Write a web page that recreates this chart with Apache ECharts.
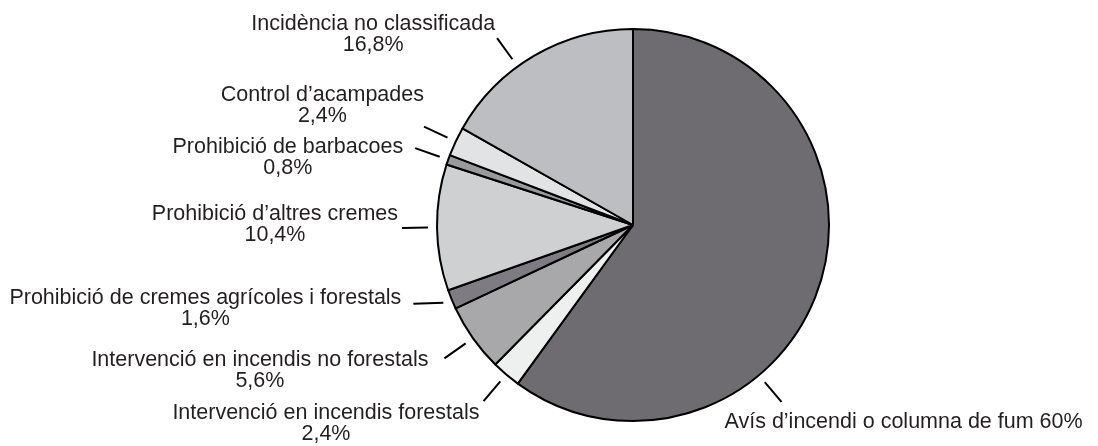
<!DOCTYPE html>
<html>
<head>
<meta charset="utf-8">
<title>Avisos</title>
<script src="https://cdn.jsdelivr.net/npm/echarts@6/dist/echarts.min.js"></script>
<style>
  html, body { margin: 0; padding: 0; background: #fff; }
  #chart { width: 1098px; height: 446px; }
</style>
</head>
<body>
<div id="chart"></div>
<script>
// categories and shares (%), clockwise from 12 o'clock
const names = [
  'Avís d’incendi o columna de fum',
  'Intervenció en incendis forestals',
  'Intervenció en incendis no forestals',
  'Prohibició de cremes agrícoles i forestals',
  'Prohibició d’altres cremes',
  'Prohibició de barbacoes',
  'Control d’acampades',
  'Incidència no classificada'
]
const values = [60, 2.4, 5.6, 1.6, 10.4, 0.8, 2.4, 16.8]

// styling / layout
const sliceColors = ['#6e6c71', '#eef0ef', '#a8a8aa', '#7e7c82', '#cfd0d2', '#9a999e', '#e2e3e5', '#bdbec1']
const cx = 633, cy = 225, R = 196
const tickR0 = 205, tickR1 = 231
const tickShift = [32, 0, 0, 0, 0, 0, 0, -5.8]   // degrees
const flatTick = [false, false, false, true, false, false, false, false]
const labelNudge = [[-57, 20], [-4, 22], [-16, 12], [-12, 5], [-4, -3], [-12, 9], [0, -21], [-2, -4]]

const total = values.reduce((a, b) => a + b, 0)

function tick(i) {
  let before = 0
  for (let k = 0; k < i; k++) before += values[k]
  const deg = (before + values[i] / 2) / total * 360 + tickShift[i]
  const a = deg * Math.PI / 180
  const dx = Math.sin(a), dy = -Math.cos(a)
  const p0 = [cx + dx * tickR0, cy + dy * tickR0]
  if (flatTick[i]) return [p0, [p0[0] + (dx < 0 ? -30 : 30), p0[1] + 1]]
  return [p0, [cx + dx * tickR1, cy + dy * tickR1]]
}

function pct(v) {
  return String(v).replace('.', ',') + '%'
}

const chart = echarts.init(document.getElementById('chart'), null, { renderer: 'canvas' })

const option = {
  animation: false,
  backgroundColor: '#fff',
  series: [{
    type: 'pie',
    center: [cx, cy],
    radius: R,
    startAngle: 90,
    clockwise: true,
    avoidLabelOverlap: false,
    silent: true,
    data: names.map((n, i) => ({
      name: n,
      value: values[i],
      itemStyle: { color: sliceColors[i] }
    })),
    itemStyle: { borderColor: '#000', borderWidth: 2 },
    label: {
      show: true,
      position: 'outside',
      color: '#231f20',
      fontFamily: 'Liberation Sans, Arial, sans-serif',
      fontSize: 21.5,
      lineHeight: 21,
      formatter: function (p) {
        return p.name + (p.dataIndex === 0 ? ' ' : '\n') + pct(p.value)
      }
    },
    labelLine: {
      show: true,
      length: 20,
      length2: 0,
      lineStyle: { color: '#000', width: 2 }
    },
    labelLayout: function (p) {
      const i = p.dataIndex
      const t = tick(i)
      const end = t[1]
      const w = p.labelRect.width
      const left = end[0] < cx
      const x = left ? end[0] + labelNudge[i][0] - w / 2 : end[0] + labelNudge[i][0] + w / 2
      return {
        x: x,
        y: end[1] + labelNudge[i][1],
        align: 'center',
        verticalAlign: 'middle',
        labelLinePoints: [t[0], t[1], t[1]]
      }
    }
  }]
}

chart.setOption(option)
</script>
</body>
</html>
